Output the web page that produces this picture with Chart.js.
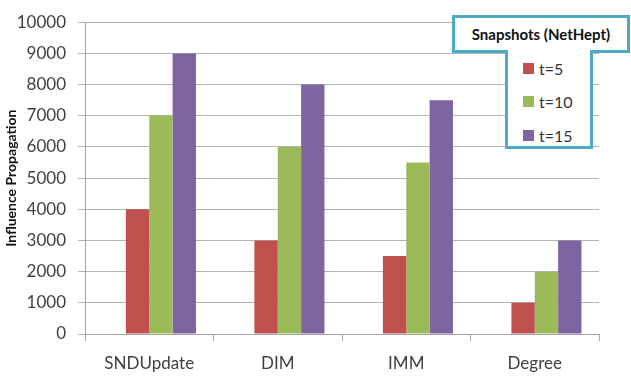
<!DOCTYPE html>
<html>
<head>
<meta charset="utf-8">
<title>Influence Propagation by Method</title>
<script src="https://cdn.jsdelivr.net/npm/chart.js@4/dist/chart.umd.min.js"></script>
<style>
  html, body { margin: 0; padding: 0; background: #ffffff; }
  #wrap { position: relative; width: 631px; height: 376px; overflow: hidden; }
  #chart { position: absolute; left: 0; top: 0; }
  .legend-title {
    position: absolute; left: 452px; top: 15px; width: 172px; height: 32px;
    border: 3px solid #4bacc6; background: #ffffff;
    font: bold 15px Lato, "Open Sans", sans-serif; color: #111111;
    display: flex; align-items: center; justify-content: center;
  }
  .legend-items {
    position: absolute; left: 505px; top: 50px; width: 82px; height: 96px;
    border: 3px solid #4bacc6; border-top: none; background: #ffffff;
  }
  .legend-row {
    position: absolute; left: 15px; height: 20px;
    font: 16px Lato, "Open Sans", sans-serif; color: #333333;
    display: flex; align-items: center;
  }
  .legend-swatch { width: 11px; height: 11px; margin-right: 5px; }
</style>
</head>
<body>
<div id="wrap">
  <canvas id="chart" width="631" height="376"></canvas>
  <div class="legend-title" id="legendTitle"></div>
  <div class="legend-items" id="legendItems"></div>
</div>
<script>
// Methods compared along the x axis
const categories = ['SNDUpdate', 'DIM', 'IMM', 'Degree'];

// Influence propagation per snapshot
const seriesLabels = ['t=5', 't=10', 't=15'];
const t5Values  = [4000, 3000, 2500, 1000];
const t10Values = [7000, 6000, 5500, 2000];
const t15Values = [9000, 8000, 7500, 3000];
const seriesColors = ['#c0504d', '#9bbb59', '#8064a2'];

// Leading placeholder series (holds a bar slot but draws nothing)
const placeholderValues = [null, null, null, null];

const legendTitleText = 'Snapshots (NetHept)';
const yAxisTitle = 'Influence Propagation';
const yMin = 0, yMax = 10000, yStep = 1000;

const seriesValues = [t5Values, t10Values, t15Values];

const datasets = [{ label: '', data: placeholderValues, backgroundColor: 'rgba(0,0,0,0)' }]
  .concat(seriesLabels.map((label, i) => ({
    label,
    data: seriesValues[i],
    backgroundColor: seriesColors[i]
  })));

const tickFont = { family: 'Lato, "Open Sans", sans-serif', size: 17 };

new Chart(document.getElementById('chart'), {
  type: 'bar',
  data: { labels: categories, datasets },
  options: {
    responsive: false,
    animation: false,
    devicePixelRatio: 1,
    layout: { padding: { left: 0, right: 32, top: 14, bottom: 0 } },
    datasets: { bar: { categoryPercentage: 0.727, barPercentage: 1.0, borderWidth: 0 } },
    plugins: { legend: { display: false }, tooltip: { enabled: false } },
    scales: {
      x: {
        grid: { drawOnChartArea: false, drawTicks: true, tickLength: 7, color: '#a6a6a6', offset: true },
        border: { display: true, color: '#a6a6a6' },
        ticks: { color: '#404040', font: tickFont, padding: 12 },
        afterFit: (s) => { s.height = 42; }
      },
      y: {
        min: yMin, max: yMax,
        grid: { color: '#b3b3b3', drawTicks: true, tickLength: 7 },
        border: { display: true, color: '#a6a6a6' },
        ticks: {
          stepSize: yStep, color: '#404040', font: tickFont, padding: 12,
          callback: (v) => String(v)
        },
        title: {
          display: true, text: yAxisTitle, color: '#111111',
          font: { family: 'Lato, "Open Sans", sans-serif', size: 14, weight: 'bold' },
          padding: { top: 3, bottom: 0 }
        },
        afterFit: (s) => { s.width = 85; }
      }
    }
  }
});

// Legend panel built from the series arrays
document.getElementById('legendTitle').textContent = legendTitleText;
const itemsBox = document.getElementById('legendItems');
const rowTops = [8, 41, 75];
seriesLabels.forEach((label, i) => {
  const row = document.createElement('div');
  row.className = 'legend-row';
  row.style.top = rowTops[i] + 'px';
  const sw = document.createElement('span');
  sw.className = 'legend-swatch';
  sw.style.background = seriesColors[i];
  const tx = document.createElement('span');
  tx.textContent = label;
  row.appendChild(sw);
  row.appendChild(tx);
  itemsBox.appendChild(row);
});
</script>
</body>
</html>
